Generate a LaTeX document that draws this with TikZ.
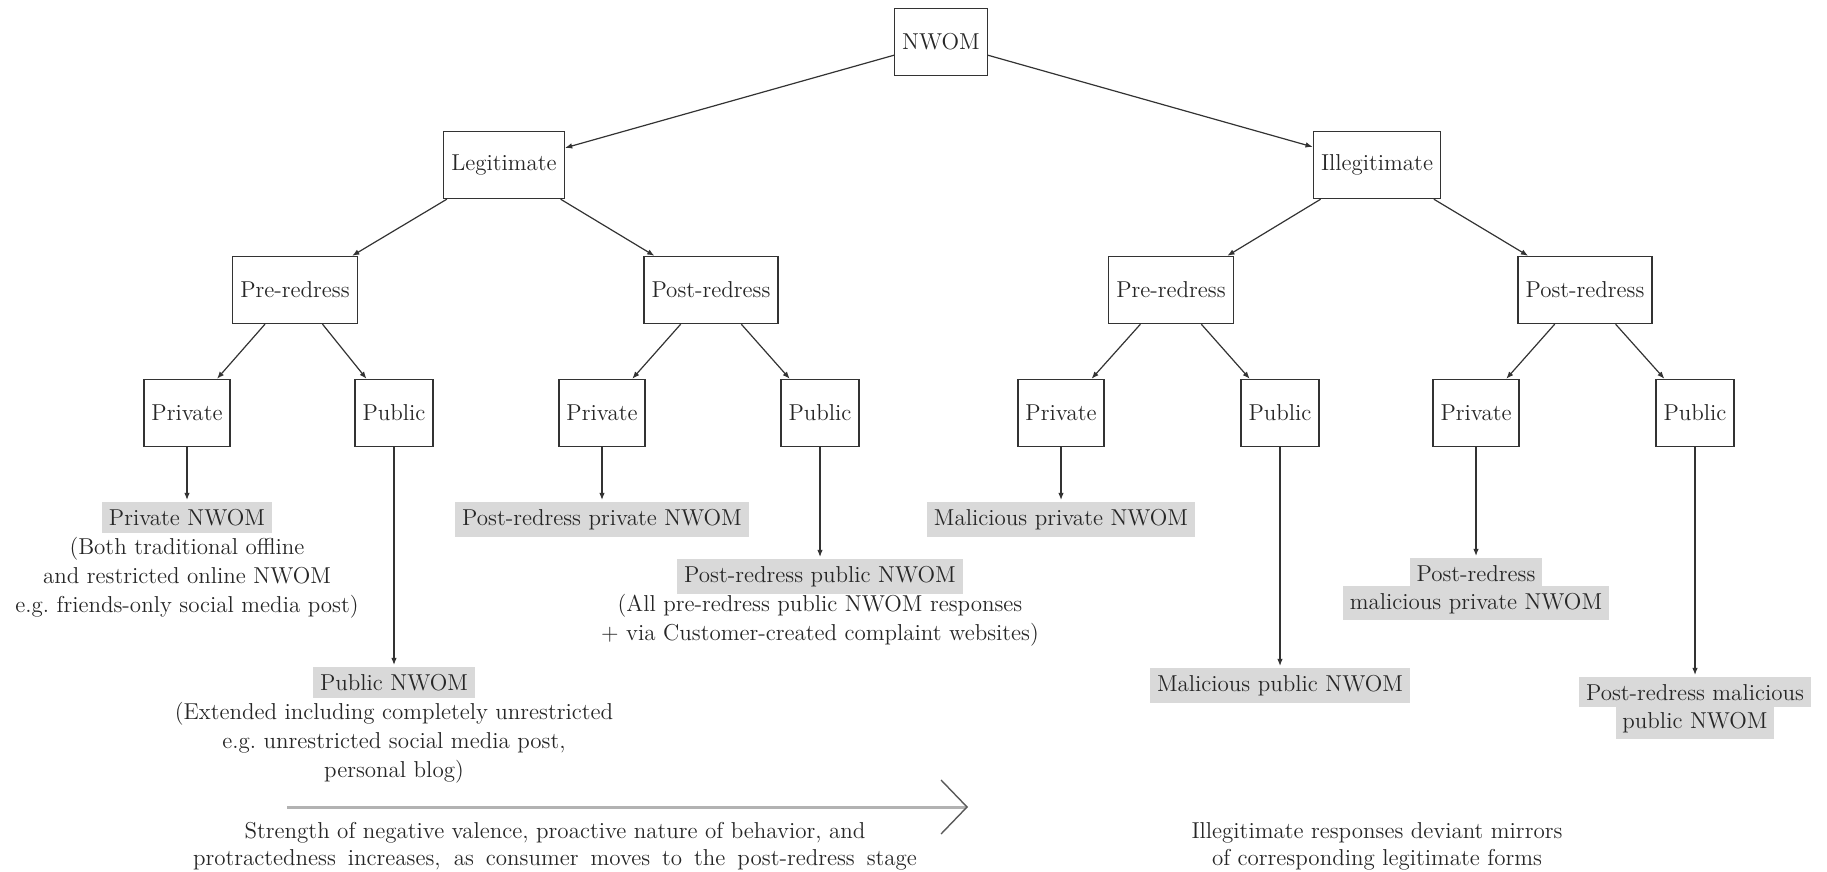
\documentclass[tikz,border=0pt]{standalone}
\usetikzlibrary{arrows.meta}
\definecolor{ink}{gray}{0.2}
\definecolor{shade}{gray}{0.85}
\newcommand{\hlbox}[1]{{\setlength{\fboxsep}{3.4pt}\colorbox{shade}{#1}}}
\begin{document}
\begin{tikzpicture}[x=0.5pt,y=-0.5pt,
  every node/.style={font=\fontsize{11.5}{14.5}\selectfont, text=black!85},
  catbox/.style={draw=ink, line width=0.7pt, minimum height=33.5pt, inner xsep=3.8pt},
  leaf/.style={align=center, anchor=north, inner sep=1pt},
  link/.style={draw=ink, line width=0.6pt, -{Latex[length=3.6pt,width=2.8pt]}},
  note/.style={align=center, font=\fontsize{11.5}{13.5}\selectfont}]
\useasboundingbox (0,0) rectangle (1827,872);

% top of the tree
\node[catbox] (nwom) at (941,42) {NWOM};
\node[catbox] (leg) at (504,165) {Legitimate};
\node[catbox] (ill) at (1377,165) {Illegitimate};

% redress stage
\node[catbox] (lpre)  at (295,290)  {Pre-redress};
\node[catbox] (lpost) at (711,290)  {Post-redress};
\node[catbox] (ipre)  at (1171,290) {Pre-redress};
\node[catbox] (ipost) at (1585,290) {Post-redress};

% channel
\node[catbox] (lprepriv)  at (187,413)  {Private};
\node[catbox] (lprepub)   at (394,413)  {Public};
\node[catbox] (lpostpriv) at (602,413)  {Private};
\node[catbox] (lpostpub)  at (820,413)  {Public};
\node[catbox] (iprepriv)  at (1061,413) {Private};
\node[catbox] (iprepub)   at (1280,413) {Public};
\node[catbox] (ipostpriv) at (1476,413) {Private};
\node[catbox] (ipostpub)  at (1695,413) {Public};

% resulting forms
\node[leaf] (f1) at (187,500) {\hlbox{Private NWOM}\\(Both traditional offline\\and restricted online NWOM\\e.g.\ friends-only social media post)};
\node[leaf] (f2) at (394,665) {\hlbox{Public NWOM}\\(Extended including completely unrestricted\\e.g.\ unrestricted social media post,\\personal blog)};
\node[leaf] (f3) at (602,500) {\hlbox{Post-redress private NWOM}};
\node[leaf] (f4) at (820,557) {\hlbox{Post-redress public NWOM}\\(All pre-redress public NWOM responses\\+ via Customer-created complaint websites)};
\node[leaf] (f5) at (1061,500) {\hlbox{Malicious private NWOM}};
\node[leaf] (f6) at (1280,666) {\hlbox{Malicious public NWOM}};
\node[leaf] (f7) at (1476,556) {\hlbox{Post-redress}\\[-2pt]\hlbox{malicious private NWOM}};
\node[leaf] (f8) at (1695,675) {\hlbox{Post-redress malicious}\\[-2pt]\hlbox{public NWOM}};

% tree connectors
\draw[link] (nwom) -- (leg);
\draw[link] (nwom) -- (ill);
\draw[link] (leg) -- (lpre);
\draw[link] (leg) -- (lpost);
\draw[link] (ill) -- (ipre);
\draw[link] (ill) -- (ipost);
\draw[link] (lpre) -- (lprepriv);
\draw[link] (lpre) -- (lprepub);
\draw[link] (lpost) -- (lpostpriv);
\draw[link] (lpost) -- (lpostpub);
\draw[link] (ipre) -- (iprepriv);
\draw[link] (ipre) -- (iprepub);
\draw[link] (ipost) -- (ipostpriv);
\draw[link] (ipost) -- (ipostpub);
\draw[link] (lprepriv) -- (f1);
\draw[link] (lprepub) -- (f2);
\draw[link] (lpostpriv) -- (f3);
\draw[link] (lpostpub) -- (f4);
\draw[link] (iprepriv) -- (f5);
\draw[link] (iprepub) -- (f6);
\draw[link] (ipostpriv) -- (f7);
\draw[link] (ipostpub) -- (f8);

% progression arrow and notes
\coordinate (arrA) at (287,807);
\coordinate (arrB) at (968,807);
\draw[draw=black!30, line width=1.5pt,
  -{Straight Barb[length=13pt,width=27pt,line width=0.7pt,color=black!65]}] (arrA) -- (arrB);
\node[note] (strength) at (555,846) {Strength of negative valence, proactive nature of behavior, and\\\makebox[362pt][s]{protractedness increases, as consumer moves to the post-redress stage}};
\node[note] (mirror) at (1377,846) {Illegitimate responses deviant mirrors\\of corresponding legitimate forms};
\end{tikzpicture}
\end{document}
